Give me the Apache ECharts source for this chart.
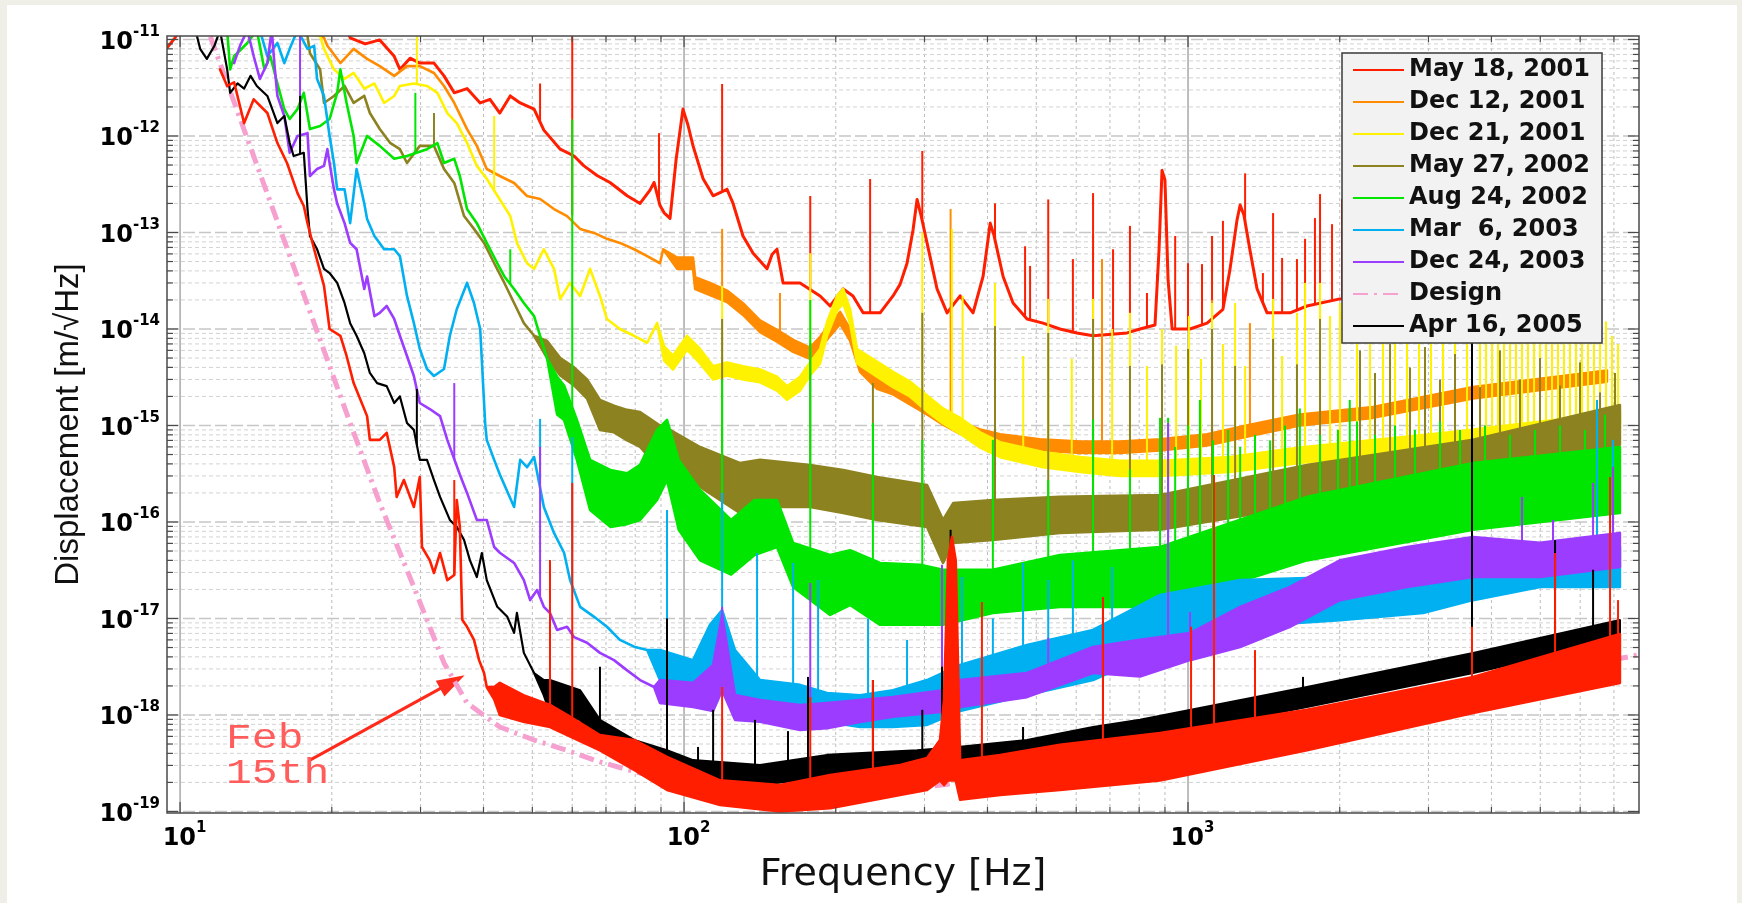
<!DOCTYPE html>
<html>
<head>
<meta charset="utf-8">
<script src="https://cdn.jsdelivr.net/npm/echarts@6/dist/echarts.min.js"></script>
<style>
  html, body { margin: 0; padding: 0; background: #efefe7; }
  #panel { position: absolute; left: 7px; top: 5px; width: 1730px; height: 898px; background: #ffffff; }
  #chart { position: absolute; left: 0; top: 0; width: 1742px; height: 903px; }
</style>
</head>
<body>
<div id="panel"></div>
<div id="chart"></div>
<script>
// ---- legend names (in plot order) ----
const seriesNames = ['May 18, 2001', 'Dec 12, 2001', 'Dec 21, 2001', 'May 27, 2002',
  'Aug 24, 2002', 'Mar  6, 2003', 'Dec 24, 2003', 'Design', 'Apr 16, 2005'];
const lateCurveName = 'Feb 15th';

// ---- axis ticks ----
const xDecades = [10, 100, 1000];
const yExponents = [-19, -18, -17, -16, -15, -14, -13, -12, -11];
const minorMultipliers = [2, 3, 4, 5, 6, 7, 8, 9];

// ---- spectra: [Hz, value] on thin parts, [Hz, low, high] where the noise band is wide ----
const may18 = [[9.42,8.2e-12],[9.77,1.04e-11],[10.1,1.4e-11],[21.3,1.4e-11],[21.75,1.04e-11],[23.3,9.0e-12],[24.9,9.9e-12],[26.6,6.7e-12],[27.3,4.9e-12],[28.6,6.4e-12],[29.9,5.7e-12],[31.9,5.7e-12],[33.4,4.2e-12],[35.0,2.8e-12],[37.1,3.1e-12],[39.4,2.2e-12],[41.2,2.4e-12],[43.1,1.73e-12],[45.2,2.6e-12],[47.3,2.2e-12],[50.4,1.9e-12],[52.7,1.15e-12],[56.8,7.3e-13],[60.5,6.2e-13],[63.3,4.9e-13],[67.2,3.9e-13],[71.3,3.3e-13],[77.1,2.4e-13],[81.8,2.0e-13],[85.6,2.75e-13],[87.2,3.3e-13],[89.6,1.9e-13],[91.3,1.6e-13],[93.8,1.4e-13],[96.4,5.6e-13],[99.5,1.9e-12],[101.8,1.3e-12],[104.2,7.9e-13],[109.1,3.6e-13],[114.2,2.4e-13],[121.7,2.8e-13],[125.1,2.0e-13],[130.9,9.2e-14],[137.1,6.1e-14],[146.1,4.2e-14],[149.5,5.9e-14],[152.9,6.7e-14],[157.2,3.0e-14],[169.9,3.0e-14],[186.2,2.2e-14],[194.9,1.73e-14],[206.9,2.6e-14],[216.4,2.2e-14],[226.6,1.47e-14],[244.9,1.47e-14],[259.8,2.2e-14],[268.3,2.9e-14],[277,4.8e-14],[284.7,1.06e-13],[290,2.2e-13],[295.3,1.5e-13],[303.5,7.8e-14],[317.7,2.6e-14],[332.6,1.47e-14],[353,2.2e-14],[374.5,1.47e-14],[392,3.5e-14],[401,8.4e-14],[405,1.25e-13],[412,9.4e-14],[429.6,3.5e-14],[449.6,1.86e-14],[479.3,1.27e-14],[515.7,1.15e-14],[557,1.0e-14],[602,9.1e-15],[648,8.5e-15],[757,9.1e-15],[803,1.0e-14],[860,1.1e-14],[876,6.6e-14],[888,4.4e-13],[900,3.5e-13],[913,3.2e-14],[930,1.0e-14],[1009,1.0e-14],[1091,1.15e-14],[1173,1.6e-14],[1211,4.1e-14],[1251,1.35e-13],[1269,1.93e-13],[1291,1.52e-13],[1327,6.6e-14],[1371,2.6e-14],[1435,1.47e-14],[1594,1.47e-14],[1722,1.73e-14],[2002,2.05e-14],[2634,2.25e-14],[4159,2.5e-14],[6277,2.86e-14]];
const may18Lines = [[51.8,3.5e-12],[60,2e-11,1.5e-13],[89.2,1.07e-12],[119,3.46e-12],[178,2.39e-13],[234,3.58e-13],[297,7.0e-13],[414,2.0e-13],[475,7.2e-14],[486,4.5e-14],[528,2.2e-13],[591,5.3e-14],[648,2.56e-13],[710,6.7e-14],[767,1.17e-13],[829,2.36e-14],[868,3.7e-14],[943,9.2e-14],[1000,4.8e-14],[1066,4.7e-14],[1116,9.2e-14],[1173,1.32e-13],[1298,4.1e-13],[1408,3.8e-14],[1475,1.59e-13],[1537,5.45e-14],[1645,5.3e-14],[1707,8.6e-14],[1786,1.41e-13],[1828,2.5e-13],[1931,1.22e-13],[2021,2.22e-13]];

const dec12 = [[18.45,1.25e-11],[19.3,1.04e-11],[19.6,8.6e-12],[20.8,5.7e-12],[22.1,8.0e-12],[23.5,6.3e-12],[24.9,5.3e-12],[26.6,4.2e-12],[28.2,5.3e-12],[29.9,5.3e-12],[31.9,4.5e-12],[33.4,3.3e-12],[35.0,2.2e-12],[37.1,1.18e-12],[38.8,7.9e-13],[40.6,4.55e-13],[43.1,3.85e-13],[46.0,3.26e-13],[48.8,2.39e-13],[51.8,2.22e-13],[55.2,1.75e-13],[58.6,1.48e-13],[62.2,1.09e-13],[66.3,9.9e-14],[70.3,8.6e-14],[74.6,7.8e-14],[79.6,6.7e-14],[84.5,5.7e-14],[89.6,4.8e-14],[90.9,6.7e-14],[96.9,4.2e-14,5.5e-14],[104.2,4.2e-14,5.5e-14],[105.2,2.6e-14,3.45e-14],[112.6,2.25e-14,3.0e-14],[121.7,1.9e-14,2.5e-14],[130.9,1.4e-14,1.85e-14],[141.5,9.3e-15,1.23e-14],[152.9,7.4e-15,9.8e-15],[164.6,5.8e-15,7.7e-15],[177.8,4.9e-15,6.4e-15],[186.2,6.3e-15,8.3e-15],[194.9,8.5e-15,1.13e-14],[204,1.13e-14,1.5e-14],[213.5,7.6e-15,1.0e-14],[223.5,3.6e-15,5.0e-15],[241.5,2.4e-15,3.2e-15],[259.8,2.1e-15,2.75e-15],[280.7,1.65e-15,2.15e-15],[303.5,1.3e-15,1.7e-15],[326.5,1.02e-15,1.35e-15],[353,8.2e-16,1.08e-15],[387,7.0e-16,9.1e-16],[424,6.2e-16,8.1e-16],[508,5.5e-16,7.2e-16],[611,5.2e-16,6.8e-16],[733,5.2e-16,6.8e-16],[880,5.5e-16,7.2e-16],[1091,6.2e-16,8.1e-16],[1327,7.8e-16,1.02e-15],[1667,1.0e-15,1.3e-15],[2328,1.2e-15,1.55e-15],[3678,1.9e-15,2.5e-15],[6780,2.85e-15,3.7e-15]];
const dec12Lines = [[119,1.09e-13],[155,2.36e-14],[338,1.75e-13],[675,5.3e-14],[1116,2.0e-14],[1327,1.15e-14],[2002,1.5e-14],[2720,1.6e-14],[4476,1.5e-14],[5276,1.4e-14]];

const dec21 = [[15.8,1.25e-11],[18.96,1.09e-11],[19.3,8.0e-12],[20.2,4.9e-12],[21.2,3.9e-12],[22.1,4.5e-12],[23.2,3.1e-12],[24.3,3.5e-12],[25.4,2.2e-12],[26.6,2.6e-12],[27.3,3.3e-12],[29.1,3.5e-12],[30.9,3.3e-12],[32.4,2.8e-12],[33.9,1.73e-12],[35.4,1.36e-12],[37.1,8.5e-13],[38.8,4.9e-13],[40.6,3.6e-13],[43.1,2.2e-13],[45.2,1.48e-13],[46.6,7.8e-14],[48.8,4.8e-14],[50.4,4.2e-14],[52.7,6.7e-14],[55.2,4.2e-14],[56.8,2.05e-14],[59.4,3.0e-14],[62.2,2.2e-14],[65.1,4.2e-14],[68.1,2.2e-14],[70.3,1.27e-14],[74.6,1.0e-14],[79.6,8.5e-15],[84.5,7.2e-15],[88.4,1.15e-14],[91.3,4.7e-15,6.6e-15],[95.1,3.8e-15,5.3e-15],[101.4,6.1e-15,8.5e-15],[107.6,4.4e-15,6.2e-15],[114.2,3.0e-15,4.1e-15],[121.7,3.3e-15,4.5e-15],[130.9,3.0e-15,4.1e-15],[141.5,2.8e-15,3.8e-15],[152.9,2.3e-15,3.2e-15],[160.1,1.85e-15,2.55e-15],[169.9,2.3e-15,3.2e-15],[177.8,3.3e-15,4.5e-15],[186.2,4.4e-15,6.2e-15],[192.2,8.5e-15,1.18e-14],[201.2,1.55e-14,2.2e-14],[206.9,1.85e-14,2.6e-14],[213.5,1.15e-14,1.6e-14],[220.4,4.4e-15,6.2e-15],[241.5,3.2e-15,4.6e-15],[259.8,2.5e-15,3.6e-15],[280.7,2.0e-15,2.85e-15],[303.5,1.4e-15,2.05e-15],[326.5,1.05e-15,1.5e-15],[353,8.2e-16,1.2e-15],[387,5.9e-16,8.5e-16],[424,4.7e-16,6.7e-16],[515.7,3.7e-16,5.3e-16],[611,3.3e-16,4.7e-16],[733,3.0e-16,4.3e-16],[880,3.0e-16,4.3e-16],[1211,3.3e-16,4.7e-16],[1667,4.1e-16,5.9e-16],[3310,5.9e-16,8.5e-16],[7194,9.5e-16,1.37e-15]];
const dec21Lines = [[29.5,1.2e-11],[42.0,1.61e-12],[119,2.8e-14],[178,6.1e-14],[297,1.0e-13],[340,1.09e-13],[357,2.2e-14],[414,3.0e-14],[471,5.25e-15],[528,2.05e-14],[588,4.9e-15],[648,2.05e-14],[707,1.0e-14],[767,1.47e-14],[829,4.14e-15],[888,1.0e-14],[947,6.7e-15],[1004,1.36e-14],[1061,4.9e-15],[1116,1.86e-14],[1173,7.0e-15],[1240,1.86e-14],[1298,4.14e-15],[1475,2.05e-14],[1537,5.25e-15],[1645,1.47e-14],[1707,3.0e-14],[1828,3.0e-14],[1913,1.36e-14],[2002,1.86e-14],[2164,1.2e-14],[2297,1.6e-14],[2438,1.1e-14],[2575,1.7e-14],[2720,1.3e-14],[2873,1.0e-14],[3035,1.5e-14],[3206,1.2e-14],[3387,1.7e-14],[3578,1.1e-14],[3797,1.6e-14],[3903,1.2e-14],[4012,2.0e-14],[4123,1.3e-14],[4236,1.8e-14],[4355,1.1e-14],[4476,1.9e-14],[4600,1.4e-14],[4727,1.7e-14],[4860,1.2e-14],[4994,2.0e-14],[5133,1.3e-14],[5276,1.8e-14],[5422,1.1e-14],[5572,1.6e-14],[5727,1.3e-14],[5887,1.9e-14],[6049,1.2e-14],[6219,1.7e-14],[6391,1.1e-14],[6570,1.5e-14],[6751,1.2e-14],[6939,8.5e-15],[7133,7.0e-15]];

const may27 = [[16.8,1.25e-11],[17.9,1.09e-11],[18.1,7.2e-12],[18.96,4.9e-12],[19.3,2.2e-12],[20.2,2.6e-12],[21.2,3.3e-12],[22.1,2.2e-12],[23.2,2.6e-12],[23.8,1.73e-12],[24.9,1.18e-12],[26.1,8.5e-13],[27.3,7.3e-13],[28.2,5.25e-13],[29.9,7.9e-13],[31.9,7.9e-13],[33.4,4.55e-13],[35.0,3.26e-13],[36.6,1.48e-13],[38.3,1.09e-13],[40.1,7.8e-14],[42.0,4.8e-14],[44.0,3.0e-14],[46.0,1.86e-14],[48.1,1.15e-14],[50.4,8.5e-15],[53.5,5.0e-15,7.5e-15],[56.8,3.3e-15,5.0e-15],[60.5,2.6e-15,4.0e-15],[64.2,1.9e-15,3.0e-15],[68.1,9.0e-16,1.84e-15],[72.6,8.5e-16,1.6e-15],[77.1,7.0e-16,1.45e-15],[81.8,6.0e-16,1.38e-15],[89.6,3.5e-16,1.0e-15],[93.8,2.72e-16,9.0e-16],[107.6,2.31e-16,5.98e-16],[129,1.24e-16,4.08e-16],[141.5,1.43e-16,4.4e-16],[177.8,1.43e-16,3.9e-16],[206.9,1.24e-16,3.46e-16],[241.5,1.05e-16,2.92e-16],[303.5,8.9e-17,2.42e-16],[326.5,3.76e-17,1.05e-16],[342,6.07e-17,1.57e-16],[410,6.5e-17,1.69e-16],[557,7.7e-17,1.82e-16],[880,8.3e-17,1.9e-16],[1722,1.5e-16,3.9e-16],[3678,3.07e-16,7.1e-16],[7194,6.3e-16,1.63e-15]];
const may27Lines = [[31.9,1.73e-12],[119,1.27e-14],[178,7.2e-15],[237,2.75e-15],[297,1.47e-14],[414,1.07e-14],[528,9.1e-15],[648,1.27e-14],[767,4.14e-15],[888,4.3e-15],[1000,6.2e-15],[1116,1.0e-14],[1240,4.14e-15],[1475,7.9e-15],[1645,4.3e-15],[1828,1.27e-14],[2194,6.0e-15],[2350,3.5e-15],[2517,7.0e-15],[2757,4.0e-15],[2953,6.5e-15],[3162,3.0e-15],[3387,5.5e-15],[3797,2.5e-15],[4159,6.0e-15],[4557,3.0e-15],[4994,5.0e-15],[5472,2.6e-15],[5995,4.5e-15],[6570,2.2e-15],[7035,3.5e-15]];

const aug24 = [[12.4,1.25e-11],[12.57,4.9e-12],[12.8,6.7e-12],[13.6,9.2e-12],[14.2,1.25e-11],[14.7,4.9e-12],[15.1,6.7e-12],[15.6,3.5e-12],[16.1,1.9e-12],[16.5,1.5e-12],[17.1,1.9e-12],[17.6,2.8e-12],[18.1,1.18e-12],[18.96,1.27e-12],[19.8,1.5e-12],[20.5,2.8e-12],[20.8,4.9e-12],[21.4,2.2e-12],[22.1,1.0e-12],[22.4,5.25e-13],[23.5,1.0e-12],[24.9,7.9e-13],[26.6,5.8e-13],[28.2,6.2e-13],[30.9,7.3e-13],[32.4,8.45e-13],[33.4,5.25e-13],[35.0,5.8e-13],[35.9,3.85e-13],[37.1,1.75e-13],[38.8,1.25e-13],[40.6,7.8e-14],[42.6,4.8e-14],[44.0,3.5e-14],[46.0,2.6e-14],[48.1,1.86e-14],[50.4,1.36e-14],[51.8,8.5e-15],[53.5,4.9e-15],[56.0,1.3e-15,3.2e-15],[57.8,1.14e-15,2.6e-15],[61.3,4.4e-16,1.14e-15],[65.1,1.33e-16,4.4e-16],[71.4,8.9e-17,3.46e-16],[77.1,9.5e-17,3.2e-16],[81.8,1.05e-16,3.9e-16],[88.4,1.69e-16,9.0e-16],[92.5,2.72e-16,1.14e-15],[97.6,8.3e-17,4.4e-16],[107.6,4.0e-17,2.15e-16],[124,2.85e-17,1.05e-16],[138,4.55e-17,1.69e-16],[152.9,5.5e-17,1.69e-16],[164.6,2.12e-17,6.07e-17],[194.9,1.09e-17,4.55e-17],[213.5,1.38e-17,5.1e-17],[244.9,8.6e-18,3.76e-17],[294,8.6e-18,3.6e-17],[326.5,8.6e-18,3.2e-17],[410,1.14e-17,3.2e-17],[557,1.32e-17,4.55e-17],[880,1.32e-17,5.5e-17],[1722,4.0e-17,1.82e-16],[3678,8.3e-17,4.08e-16],[7194,1.24e-16,5.98e-16]];
const aug24Lines = [[29.3,2.8e-12],[45.2,6.7e-14],[60,1.48e-12],[119,3.0e-15],[178,2.0e-14],[237,1.06e-15],[297,7.1e-16],[410,7.1e-16],[528,2.72e-16],[648,1.16e-15],[767,3.5e-16],[880,1.2e-15],[913,1.2e-15],[943,6.0e-16],[1000,1.0e-15],[1056,1.84e-15],[1121,7.0e-16],[1201,9.0e-16],[1269,6.0e-16],[1358,8.0e-16],[1455,7.0e-16],[1558,1.0e-15],[1667,1.5e-15],[1828,8.0e-16],[1984,9.0e-16],[2094,1.84e-15],[2164,1.1e-15],[2350,8.0e-16],[2575,1.0e-15],[2820,9.0e-16],[3162,1.1e-15],[3465,9.0e-16],[3884,1.0e-15],[4355,8.0e-16],[4881,9.0e-16],[5472,1.0e-15],[6134,9.0e-16],[6722,1.3e-15]];

const mar06 = [[14.4,1.25e-11],[14.9,6.7e-12],[15.6,9.2e-12],[16.1,5.7e-12],[16.5,8.0e-12],[17.1,1.25e-11],[17.9,8.0e-12],[18.45,8.6e-12],[18.7,3.9e-12],[19.3,2.6e-12],[19.8,1.0e-12],[20.2,5.25e-13],[20.5,2.8e-13],[21.2,2.8e-13],[21.75,1.25e-13],[22.4,4.55e-13],[23.2,2.0e-13],[23.5,1.38e-13],[24.3,9.2e-14],[25.4,6.7e-14],[26.6,6.7e-14],[27.3,5.7e-14],[28.2,2.2e-14],[29.1,1.15e-14],[29.9,6.2e-15],[30.9,3.85e-15],[31.9,3.26e-15],[33.4,3.85e-15],[34.3,8.5e-15],[35.4,1.6e-14],[37.1,3.0e-14],[38.3,1.86e-14],[39.4,1.0e-14],[40.3,1.06e-15],[40.6,7.1e-16],[42.0,4.4e-16],[43.1,3.1e-16],[46.0,1.43e-16],[47.3,4.4e-16],[48.8,3.7e-16],[50.4,4.7e-16],[52.7,1.43e-16],[55.2,7.7e-17],[57.8,4.8e-17],[59.4,2.5e-17],[62.2,1.32e-17],[66.3,1.04e-17],[70.3,8.2e-18],[74.6,6.0e-18],[79.6,5.1e-18],[84.5,4.7e-18],[89.6,2.3e-18,4.7e-18],[104.2,1.8e-18,3.7e-18],[112.6,2.9e-18,8.6e-18],[119,3.7e-18,1.22e-17],[126.2,1.43e-18,4.7e-18],[141.5,1.0e-18,2.3e-18],[169.9,8.9e-19,2.05e-18],[192.2,8.45e-19,1.69e-18],[223.5,7.5e-19,1.6e-18],[259.8,7.5e-19,1.8e-18],[303.5,7.9e-19,2.3e-18],[353,1.1e-18,3.3e-18],[479,1.61e-18,5.3e-18],[648,2.3e-18,7.6e-18],[880,4.7e-18,1.75e-17],[1269,8.2e-18,2.5e-17],[2002,9.6e-18,2.68e-17],[2927,1.14e-17,3.36e-17],[3678,1.55e-17,4.0e-17],[4994,2.12e-17,5.5e-17],[7194,2.12e-17,5.5e-17]];
const mar06Lines = [[51.8,1.17e-15],[60,7.6e-16],[92.5,1.33e-16],[119,2.0e-16],[139.6,4.77e-17],[164.6,3.76e-17],[184.5,2.5e-17],[231.8,1.0e-17],[277,6.0e-18],[356,2.69e-17],[410,1.0e-17],[470.6,3.76e-17],[528,2.5e-17],[591,4.0e-17],[707,3.4e-17],[6480,1.84e-15],[6969,7.1e-16]];

const dec24 = [[12.8,5.7e-12],[13.15,8.6e-12],[13.6,1.25e-11],[14.0,6.7e-12],[14.4,3.9e-12],[14.9,5.7e-12],[15.2,1.25e-11],[15.4,5.3e-12],[15.6,2.6e-12],[16.1,1.61e-12],[16.5,6.7e-13],[17.1,1.0e-12],[17.9,1.07e-12],[18.1,3.85e-13],[18.7,4.55e-13],[19.3,4.9e-13],[19.6,7.3e-13],[19.8,5.25e-13],[20.2,2.8e-13],[20.5,2.0e-13],[21.2,1.25e-13],[21.75,7.8e-14],[22.4,6.7e-14],[23.2,2.6e-14],[23.5,3.5e-14],[24.3,1.36e-14],[24.9,1.47e-14],[25.7,1.73e-14],[26.6,1.27e-14],[27.3,8.5e-15],[28.2,5.25e-15],[29.1,3.26e-15],[29.9,1.71e-15],[31.3,1.48e-15],[32.8,1.25e-15],[33.9,7.1e-16],[34.3,6.0e-16],[35.9,3.1e-16],[37.1,2.0e-16],[38.8,1.05e-16],[40.6,1.05e-16],[42.0,5.5e-17],[43.1,4.8e-17],[46.0,3.76e-17],[48.1,2.5e-17],[49.5,1.55e-17],[51.1,1.97e-17],[52.7,1.32e-17],[54.2,1.14e-17],[56.0,7.6e-18],[58.6,8.2e-18],[60.5,6.4e-18],[64.2,5.6e-18],[68.1,4.4e-18],[72.6,3.7e-18],[77.1,2.9e-18],[81.8,2.3e-18],[87.2,1.95e-18],[89.6,1.33e-18,2.3e-18],[104.2,1.21e-18,2.15e-18],[114.2,1.1e-18,3.3e-18],[119,1.8e-18,1.09e-17],[126.2,8.9e-19,1.61e-18],[141.5,8.5e-19,1.43e-18],[169.9,7.0e-19,1.27e-18],[192.2,7.3e-19,1.33e-18],[223.5,8.45e-19,1.43e-18],[259.8,9.6e-19,1.53e-18],[326.5,1.08e-18,1.8e-18],[353,1.21e-18,2.3e-18],[479,1.53e-18,2.72e-18],[648,2.72e-18,5.07e-18],[803,2.5e-18,6.0e-18],[1009,3.7e-18,7.06e-18],[1269,5.07e-18,1.32e-17],[1594,8.2e-18,2.12e-17],[2002,1.55e-17,4.0e-17],[2720,2.12e-17,5.5e-17],[3678,2.69e-17,7.0e-17],[4994,2.69e-17,6.07e-17],[7194,3.42e-17,7.7e-17]];
const dec24Lines = [[17.3,1.2e-11],[35.0,2.75e-15],[51.8,6.0e-16],[119,1.32e-17],[178,2.33e-17],[325,3.6e-17],[528,6.3e-18],[913,1.06e-15],[1009,1.17e-17],[4599,1.82e-16],[5300,1.05e-16],[6364,2.54e-16],[6969,3.72e-16]];

const design = [[10.96,2.1e-11],[11.47,1.09e-11],[15.79,1.09e-13],[21.75,1.06e-15],[24.9,1.57e-16],[29.1,2.12e-17],[33.4,3.46e-18],[37.1,1.33e-18],[43.1,7.5e-19],[50.4,5.5e-19],[58.6,4.3e-19],[68.1,3.26e-19],[81.8,2.5e-19],[100,2.0e-19],[130,1.65e-19],[160,1.5e-19],[200,1.5e-19],[250,1.6e-19],[330,1.9e-19],[500,2.8e-19],[1000,5.5e-19],[2000,1.1e-18],[4000,2.15e-18],[7850,4.2e-18]];

const apr16 = [[10.5,1.25e-11],[10.8,1.09e-11],[10.96,8.0e-12],[11.3,6.3e-12],[11.7,8.6e-12],[12.0,1.25e-11],[12.4,4.9e-12],[12.57,2.8e-12],[13.0,3.5e-12],[13.4,3.1e-12],[13.8,4.2e-12],[14.2,3.3e-12],[14.9,2.6e-12],[15.6,1.36e-12],[16.1,1.61e-12],[16.5,8.45e-13],[16.8,6.2e-13],[17.6,6.7e-13],[17.9,1.75e-13],[18.1,9.2e-14],[18.7,6.7e-14],[19.3,4.2e-14],[19.8,3.8e-14],[20.5,3.0e-14],[21.2,1.86e-14],[21.75,1.15e-14],[22.4,8.5e-15],[23.2,5.6e-15],[23.8,3.5e-15],[24.6,2.75e-15],[25.7,2.56e-15],[26.6,1.71e-15],[27.3,2.0e-15],[28.2,1.06e-15],[29.1,9.0e-16],[29.9,4.4e-16],[30.9,4.4e-16],[31.9,2.72e-16],[32.8,1.82e-16],[34.3,1.05e-16],[35.4,8.9e-17],[36.6,6.5e-17],[37.6,4.0e-17],[38.8,2.69e-17],[39.7,4.77e-17],[40.6,2.5e-17],[42.6,1.32e-17],[44.6,1.04e-17],[46.0,7.1e-18],[46.6,1.14e-17],[48.1,4.4e-18],[50.4,2.72e-18],[52.7,1.6e-18,2.3e-18],[54.2,1.05e-18,2.3e-18],[62.2,8.9e-19,1.8e-18],[68.1,4.66e-19,8.9e-19],[79.6,2.89e-19,5.5e-19],[92.5,2.7e-19,4.3e-19],[104.2,2.1e-19,3.4e-19],[141.5,1.88e-19,3.03e-19],[192.2,2.28e-19,3.85e-19],[290,2.39e-19,4.3e-19],[353,2.5e-19,4.66e-19],[479,3.18e-19,5.5e-19],[648,4.66e-19,7.5e-19],[803,5.5e-19,8.9e-19],[1722,1.21e-18,1.95e-18],[3678,2.72e-18,4.39e-18],[7194,6.0e-18,9.6e-18]];
const apr16Lines = [[17.3,2.6e-12],[29.5,2.39e-15],[54.2,4.0e-17],[68.1,3.16e-18],[92.5,1.0e-17],[106.6,4.66e-19],[114.2,1.13e-18],[138.3,8.9e-19],[160.8,6.8e-19],[176.2,2.48e-18],[237,2.3e-18],[297,1.13e-18],[325,3.16e-18],[338,8.3e-17],[470.6,7.5e-19],[678,1.67e-17],[1691,2.48e-18],[2021,2.15e-18],[3660,1.24e-14],[5349,6.5e-17],[6364,3.2e-17]];

const feb15 = [[12.0,4.9e-12],[12.4,3.3e-12],[12.8,3.6e-12],[13.4,1.36e-12],[14.0,2.4e-12],[14.9,1.73e-12],[15.6,8.45e-13],[16.3,5.25e-13],[17.1,2.56e-13],[17.6,1.88e-13],[17.9,1.25e-13],[18.45,6.7e-14],[19.3,2.8e-14],[19.8,1.0e-14],[20.8,8.5e-15],[21.4,5.25e-15],[22.1,2.75e-15],[23.5,1.25e-15],[23.8,7.1e-16],[24.9,7.1e-16],[25.7,8.4e-16],[26.6,3.7e-16],[26.9,1.82e-16],[27.8,2.72e-16],[29.1,1.43e-16],[29.9,2.92e-16],[30.2,5.5e-17],[31.3,4.0e-17],[31.9,2.96e-17],[32.8,4.77e-17],[33.9,2.5e-17],[35.0,2.82e-17],[35.4,1.69e-16],[35.9,8.9e-17],[36.3,9.7e-18],[37.1,8.2e-18],[38.3,6.0e-18],[39.2,3.7e-18],[40.1,2.72e-18],[40.6,1.95e-18],[42.0,1.45e-18,1.95e-18],[43.1,1.0e-18,2.15e-18],[48,8.5e-19,1.6e-18],[54.2,7.5e-19,1.27e-18],[58.6,6.2e-19,1.0e-18],[68.1,4.3e-19,6.2e-19],[79.6,2.7e-19,5.5e-19],[92.5,1.67e-19,3.67e-19],[117.9,1.17e-19,2.1e-19],[155.1,1.0e-19,1.88e-19],[194.9,1.08e-19,2.39e-19],[268.3,1.48e-19,3.03e-19],[303.5,1.67e-19,3.58e-19],[322,2.1e-19,5.5e-19],[328,1.88e-19,1.43e-18],[334,2.1e-19,4.0e-17],[340,2.1e-19,7.0e-17],[346,2.1e-19,4.0e-17],[353,1.32e-19,3.4e-19],[424,1.48e-19,3.85e-19],[557,1.67e-19,4.9e-19],[880,2.1e-19,6.5e-19],[1722,4.3e-19,1.13e-18],[3678,1.05e-18,2.48e-18],[7194,2.15e-18,6.9e-18]];
const feb15Lines = [[35.0,2.72e-16],[54.2,4.0e-17],[60,2.54e-16],[119,1.95e-18],[178,1.53e-18],[237,2.3e-18],[390,1.48e-17],[678,1.67e-17],[1014,8.2e-18],[1126,3.07e-16],[1358,4.7e-18],[3660,8.2e-18],[5349,4.77e-17],[6877,2.92e-16],[7133,1.55e-17]];

// ---- styling ----
const palette = {
  'May 18, 2001': '#ff1e00', 'Dec 12, 2001': '#ff8c00', 'Dec 21, 2001': '#fff200',
  'May 27, 2002': '#8c8220', 'Aug 24, 2002': '#00e600', 'Mar  6, 2003': '#00b0f0',
  'Dec 24, 2003': '#9b3cff', 'Design': '#f5a0cf', 'Apr 16, 2005': '#000000',
  'Feb 15th': '#ff1e00'
};
const designDash = [15, 6, 3, 6];

const chart = echarts.init(document.getElementById('chart'), null, { renderer: 'canvas' });

function logInterp(pts, f) {
  // envelope top at frequency f, for anchoring a line's foot on its curve
  const hiOf = p => (p.length > 2 ? p[2] : p[1]);
  if (f <= pts[0][0]) return hiOf(pts[0]);
  for (let i = 0; i < pts.length - 1; i++) {
    const a = pts[i], b = pts[i + 1];
    if (f >= a[0] && f <= b[0]) {
      const t = (Math.log10(f) - Math.log10(a[0])) / (Math.log10(b[0]) - Math.log10(a[0]));
      return Math.pow(10, Math.log10(hiOf(a)) + t * (Math.log10(hiOf(b)) - Math.log10(hiOf(a))));
    }
  }
  return hiOf(pts[pts.length - 1]);
}

function spectrumSeries(name, pts, lines, lineWidth, z) {
  const color = palette[name];
  return {
    type: 'custom', name, z, silent: true,
    data: [[pts[0][0], pts[0][1]]],
    renderItem(params, api) {
      const cs = params.coordSys;
      const upper = [], lower = [];
      for (const p of pts) {
        const lo = p[1], hi = p.length > 2 ? p[2] : p[1];
        upper.push(api.coord([p[0], hi]));
        lower.push(api.coord([p[0], lo]));
      }
      const children = [{
        type: 'polygon',
        shape: { points: upper.concat(lower.reverse()) },
        style: { fill: color, stroke: color, lineWidth, lineJoin: 'round' }
      }];
      for (const s of lines) {
        const foot = s.length > 2 ? s[2] : logInterp(pts, s[0]);
        const a = api.coord([s[0], foot]), b = api.coord([s[0], s[1]]);
        children.push({ type: 'line', shape: { x1: a[0], y1: a[1], x2: b[0], y2: b[1] },
          style: { stroke: color, lineWidth: 2 } });
      }
      return { type: 'group', children,
        clipPath: { type: 'rect', shape: { x: cs.x, y: cs.y, width: cs.width, height: cs.height } } };
    }
  };
}

// tick positions
const xMinor = [];
xDecades.forEach(d => minorMultipliers.forEach(m => { if (m * d < 7850) xMinor.push(m * d); }));
const yMajor = yExponents.map(e => Math.pow(10, e));
const yMinor = [];
yExponents.slice(0, -1).forEach(e => minorMultipliers.forEach(m => yMinor.push(m * Math.pow(10, e))));

function gridLinesSeries() {
  return {
    type: 'custom', z: 1, silent: true, data: [[100, 1e-15]],
    renderItem(params, api) {
      const cs = params.coordSys, L = cs.x, T = cs.y, R = cs.x + cs.width, B = cs.y + cs.height;
      const ch = [];
      const seg = (x1, y1, x2, y2, stroke, w, dash) => ch.push({ type: 'line',
        shape: { x1, y1, x2, y2 }, style: { stroke, lineWidth: w, lineDash: dash } });
      xMinor.forEach(v => { const x = api.coord([v, 1e-15])[0]; seg(x, T, x, B, '#bdbdbd', 1, [3, 3]); });
      xDecades.forEach(v => { const x = api.coord([v, 1e-15])[0]; seg(x, T, x, B, '#a8a8a8', 1.5, null); });
      yMinor.forEach(v => { const y = api.coord([100, v])[1]; seg(L, y, R, y, '#d2d2d2', 1, [4, 3]); });
      yMajor.forEach(v => { const y = api.coord([100, v])[1]; seg(L, y, R, y, '#c6c6c6', 1.6, [12, 4]); });
      return { type: 'group', children: ch };
    }
  };
}

function frameSeries() {
  return {
    type: 'custom', z: 20, silent: true, data: [[100, 1e-15]],
    renderItem(params, api) {
      const cs = params.coordSys, L = cs.x, T = cs.y, R = cs.x + cs.width, B = cs.y + cs.height;
      const ch = [];
      const seg = (x1, y1, x2, y2) => ch.push({ type: 'line', shape: { x1, y1, x2, y2 },
        style: { stroke: '#4a4a4a', lineWidth: 1.2 } });
      xDecades.forEach(v => { const x = api.coord([v, 1e-15])[0]; seg(x, B, x, B - 11); seg(x, T, x, T + 11); });
      xMinor.forEach(v => { const x = api.coord([v, 1e-15])[0]; seg(x, B, x, B - 6); seg(x, T, x, T + 6); });
      yMajor.forEach(v => { const y = api.coord([100, v])[1]; seg(L, y, L + 11, y); seg(R, y, R - 11, y); });
      yMinor.forEach(v => { const y = api.coord([100, v])[1]; seg(L, y, L + 6, y); seg(R, y, R - 6, y); });
      ch.push({ type: 'rect', shape: { x: L, y: T, width: cs.width, height: cs.height },
        style: { fill: 'none', stroke: '#4a4a4a', lineWidth: 1.5 } });
      return { type: 'group', children: ch };
    }
  };
}

function powerLabel(v, padded) {
  const l = Math.log10(v), e = Math.round(l);
  if (Math.abs(l - e) > 1e-6) return '';
  return (padded ? '{p|}' : '') + '{b|10}{s|' + e + '}';
}
const labelRich = {
  p: { width: 9 },
  b: { fontFamily: 'DejaVu Sans', fontWeight: 'bold', fontSize: 24, lineHeight: 30, verticalAlign: 'bottom', color: '#000' },
  s: { fontFamily: 'DejaVu Sans', fontWeight: 'bold', fontSize: 15, lineHeight: 30, verticalAlign: 'top', color: '#000' }
};

// legend proxies carry the line look for each legend entry
const legendProxies = seriesNames.filter(n => n !== 'Design').map(n => ({
  type: 'line', name: n, data: [], symbol: 'none', z: 2,
  lineStyle: { color: palette[n], width: 2.5 }, itemStyle: { color: palette[n] }
}));

const option = {
  animation: false,
  backgroundColor: 'transparent',
  grid: { left: 167, top: 36, width: 1472, height: 777, show: false },
  xAxis: {
    type: 'log', logBase: 10, min: 9.42, max: 7850,
    axisLine: { show: false }, axisTick: { show: false }, splitLine: { show: false },
    axisLabel: { margin: 8, formatter: v => powerLabel(v, true), rich: labelRich },
    name: 'Frequency [Hz]', nameLocation: 'middle', nameGap: 32,
    nameTextStyle: { fontFamily: 'DejaVu Sans', fontSize: 38, color: '#111' }
  },
  yAxis: {
    type: 'log', logBase: 10, min: 9.64e-20, max: 1.087e-11,
    axisLine: { show: false }, axisTick: { show: false }, splitLine: { show: false },
    axisLabel: { margin: 7, formatter: v => powerLabel(v, false), rich: labelRich },
    name: 'Displacement [m/\u221AHz]', nameLocation: 'middle', nameGap: 82,
    nameTextStyle: { fontFamily: 'Liberation Sans', fontSize: 33, color: '#111' }
  },
  legend: {
    orient: 'vertical', left: 1342, top: 53, z: 50, selectedMode: false,
    data: seriesNames,
    padding: [5, 12, 5, 10], itemGap: 8, itemWidth: 51, itemHeight: 22,
    itemStyle: { opacity: 0 },
    backgroundColor: '#f2f2f2', borderColor: '#3a3a3a', borderWidth: 1.5,
    textStyle: { fontFamily: 'DejaVu Sans', fontWeight: 'bold', fontSize: 24, color: '#111', lineHeight: 22 }
  },
  graphic: [{
    type: 'text', x: 226, y: 721, scaleX: 1.23, silent: true, z: 30,
    style: { text: 'Feb\n15th', fontFamily: 'Liberation Mono', fontSize: 35, lineHeight: 35,
      fill: '#ff5c5c', verticalAlign: 'top' }
  }],
  series: [
    gridLinesSeries(),
    ...legendProxies,
    spectrumSeries('May 18, 2001', may18, may18Lines, 3, 3),
    spectrumSeries('Dec 12, 2001', dec12, dec12Lines, 2.6, 4),
    spectrumSeries('Dec 21, 2001', dec21, dec21Lines, 2.6, 5),
    spectrumSeries('May 27, 2002', may27, may27Lines, 2.6, 6),
    spectrumSeries('Aug 24, 2002', aug24, aug24Lines, 2.6, 7),
    spectrumSeries('Mar  6, 2003', mar06, mar06Lines, 2.6, 8),
    spectrumSeries('Dec 24, 2003', dec24, dec24Lines, 2.6, 9),
    {
      type: 'line', name: 'Design', data: design, symbol: 'none', z: 10, silent: true,
      lineStyle: { color: palette['Design'], width: 5, type: designDash },
      itemStyle: { color: palette['Design'] },
      markLine: {
        silent: true, symbol: ['none', 'triangle'], symbolSize: [18, 28],
        lineStyle: { color: '#ff2a1a', width: 3, type: 'solid' },
        label: { show: false },
        data: [[{ coord: [18.1, 3.4e-19] }, { coord: [34.7, 2.2e-18] }]]
      }
    },
    spectrumSeries('Apr 16, 2005', apr16, apr16Lines, 2.2, 11),
    spectrumSeries(lateCurveName, feb15, feb15Lines, 2.6, 12),
    frameSeries()
  ]
};
chart.setOption(option);
</script>
</body>
</html>
